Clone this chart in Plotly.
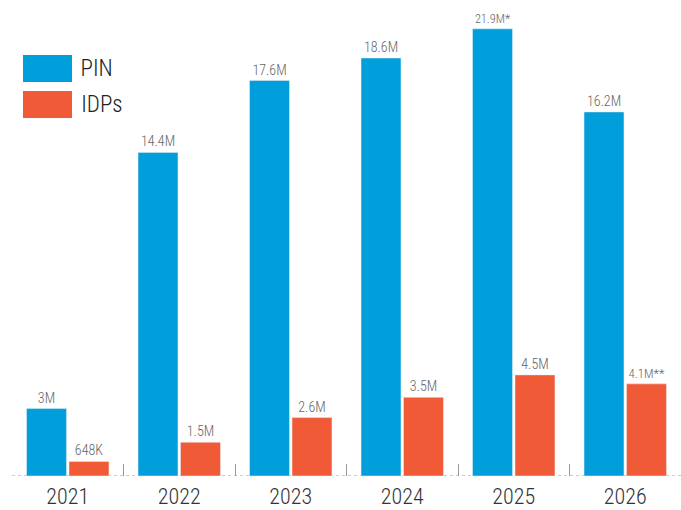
import plotly.graph_objects as go

years = ["2021", "2022", "2023", "2024", "2025", "2026"]
pin_values = [3.0, 14.4, 17.6, 18.6, 19.9, 16.2]   # bar heights as drawn (millions)
pin_labels = ["3M", "14.4M", "17.6M", "18.6M", "21.9M*", "16.2M"]
idp_values = [0.648, 1.5, 2.6, 3.5, 4.5, 4.1]
idp_labels = ["648K", "1.5M", "2.6M", "3.5M", "4.5M", "4.1M**"]

BLUE = "#009EDB"
RED = "#F15A36"
W, H = 681, 510
FONT = "Roboto"

fig = go.Figure()
fig.add_trace(go.Bar(x=years, y=pin_values, name="PIN", marker_color=BLUE,
                     text=pin_labels, textposition="outside", cliponaxis=False,
                     textfont=dict(family=FONT, size=14, color="#666666")))
fig.add_trace(go.Bar(x=years, y=idp_values, name="IDPs", marker_color=RED,
                     text=idp_labels, textposition="outside", cliponaxis=False,
                     textfont=dict(family=FONT, size=14, color="#666666")))

# baseline dotted line
fig.add_shape(type="line", xref="paper", yref="y", x0=0, x1=1, y0=0, y1=0,
              line=dict(color="#999999", width=1.2, dash="dot"), layer="below")

# manual legend
def px(x):
    return (x - 12) / (W - 12)
def py(y):
    return (476 - y) / 476

for (y0, y1, col, name) in [(55, 82, BLUE, "PIN"), (91, 118, RED, "IDPs")]:
    fig.add_shape(type="rect", xref="paper", yref="paper",
                  x0=px(23), x1=px(72), y0=py(y1), y1=py(y0),
                  fillcolor=col, line=dict(width=0))
    fig.add_annotation(xref="paper", yref="paper", x=px(76), y=py((y0 + y1) / 2),
                       text=name, showarrow=False, xanchor="left", yanchor="middle",
                       font=dict(family=FONT, size=23, color="#222222"))

fig.update_layout(
    width=W, height=H,
    margin=dict(l=12, r=0, t=0, b=34),
    paper_bgcolor="white", plot_bgcolor="white",
    barmode="group", bargap=0.238, bargroupgap=0.06,
    showlegend=False,
    font=dict(family=FONT),
    xaxis=dict(type="category", showgrid=False, zeroline=False, showline=False,
               automargin=False,
               ticks="inside", tickson="boundaries", ticklen=12, tickcolor="#999999",
               tickwidth=1, ticklabelstandoff=5,
               tickfont=dict(family=FONT, size=22, color="#333333")),
    yaxis=dict(range=[0, 476 / 22.47], visible=False, showgrid=False, zeroline=False,
               automargin=False),
)

post = """
document.body.style.margin='0';
document.querySelectorAll('svg text').forEach(function(t){
  t.style.fontStretch='75%'; t.style.fontWeight='300';
});
"""
fig.write_html("out.html", config={"displayModeBar": False}, post_script=post)
